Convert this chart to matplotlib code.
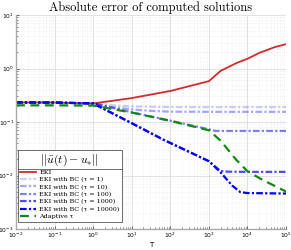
import matplotlib.pyplot as plt
from matplotlib.lines import Line2D

plt.rcParams['mathtext.fontset'] = 'cm'
plt.rcParams['axes.unicode_minus'] = False

# === data ===
t_eki = [1e-2, 1e-1, 1e0, 1e1, 1e2, 1e3, 2e3, 5e3, 1e4, 2e4, 5e4, 1e5]
err_eki = [0.232, 0.231, 0.222, 0.28, 0.38, 0.58, 0.9, 1.25, 1.52, 1.95, 2.5, 2.85]

t_tau1 = [1e-2, 1e-1, 1e0, 3e0, 1e1, 1e2, 1e3, 1e4, 1e5]
err_tau1 = [0.232, 0.231, 0.222, 0.205, 0.196, 0.19, 0.19, 0.19, 0.19]

t_tau10 = [1e-2, 1e-1, 1e0, 3e0, 1e1, 3e1, 1e2, 1e3, 1e4, 1e5]
err_tau10 = [0.232, 0.231, 0.222, 0.19, 0.172, 0.162, 0.156, 0.155, 0.155, 0.155]

t_tau100 = [1e-2, 1e-1, 1e0, 1e1, 1e2, 1e3, 1.5e3, 3e3, 1e4, 1e5]
err_tau100 = [0.232, 0.231, 0.222, 0.152, 0.106, 0.073, 0.068, 0.068, 0.068, 0.068]

t_tau1000 = [1e-2, 1e-1, 1e0, 1e1, 6.5e1, 1e3, 2e3, 3e3, 1e4, 1e5]
err_tau1000 = [0.232, 0.231, 0.222, 0.095, 0.047, 0.0185, 0.0122, 0.0118, 0.0117, 0.0117]

t_tau10000 = [1e-2, 1e-1, 1e0, 1e1, 6.5e1, 1e3, 2e3, 4e3, 6.5e3, 1e4, 1e5]
err_tau10000 = [0.232, 0.231, 0.222, 0.095, 0.047, 0.0185, 0.0115, 0.0065, 0.0049, 0.0047, 0.0046]

t_adapt = [1e-2, 1e-1, 1e0, 1e1, 1e2, 1e3, 2e3, 5e3, 1e4, 2.3e4, 1e5]
err_adapt = [0.205, 0.205, 0.203, 0.15, 0.105, 0.07, 0.045, 0.02, 0.012, 0.0085, 0.005]

tau_values = [1, 10, 100, 1000, 10000]
tau_alpha = [0.2, 0.35, 0.5, 0.7, 1.0]
tau_t = [t_tau1, t_tau10, t_tau100, t_tau1000, t_tau10000]
tau_err = [err_tau1, err_tau10, err_tau100, err_tau1000, err_tau10000]

# === plot ===
fig = plt.figure(figsize=(2.91, 2.5), dpi=100)
ax = fig.add_axes([0.055, 0.084, 0.928, 0.856])

ax.plot(t_eki, err_eki, color='#d62a2a', lw=1.3, label='EKI')
for tau, a, tt, ee in zip(tau_values, tau_alpha, tau_t, tau_err):
    ax.plot(tt, ee, color='blue', alpha=a, lw=1.6, ls=(0, (3, 1, 1, 1)),
            label='EKI with BC (\u03c4 = %d)' % tau)
ax.plot(t_adapt, err_adapt, color='#108a10', lw=1.6, ls=(0, (4, 2.5)),
        label='Adaptive \u03c4')

ax.set_xscale('log')
ax.set_yscale('log')
ax.set_xlim(1e-2, 1e5)
ax.set_ylim(1e-3, 1e1)
ax.grid(True, which='major', color='#dddddd', lw=0.6)
ax.grid(True, which='minor', color='#e4e4e4', lw=0.4, ls=':')
ax.tick_params(which='both', direction='in', labelsize=4.3, color='#333333', pad=1.5)
ax.tick_params(which='major', length=2.5, width=0.5)
ax.tick_params(which='minor', length=1.5, width=0.4)
for s in ['top', 'right']:
    ax.spines[s].set_visible(False)
for s in ['left', 'bottom']:
    ax.spines[s].set_color('#aaaaaa')
    ax.spines[s].set_linewidth(1.0)

ax.set_title('Absolute error of computed solutions', fontfamily='cmr10', fontsize=9, pad=3)
ax.set_xlabel('T', fontsize=5, labelpad=1)

leg = ax.legend(loc='lower left', bbox_to_anchor=(0.007, 0.035), borderaxespad=0,
                prop={'family': 'DejaVu Serif', 'size': 4.6},
                title=r'$||\bar{u}(t)-u_{*}||$',
                title_fontsize=8.5, framealpha=1, edgecolor='#555555', fancybox=False,
                handlelength=2.5, handletextpad=0.5, labelspacing=0.3, borderpad=0.35)
leg.get_frame().set_linewidth(0.6)

# separator under legend title (matlab style)
fig.canvas.draw()
lb = leg.get_frame().get_window_extent()
tb = leg.get_title().get_window_extent()
ysep = tb.y0 - 1.0
fig.add_artist(Line2D([lb.x0 / fig.bbox.width, lb.x1 / fig.bbox.width],
                      [ysep / fig.bbox.height, ysep / fig.bbox.height],
                      color='#555555', lw=0.6, transform=fig.transFigure))

plt.savefig('out.png', dpi=100)
